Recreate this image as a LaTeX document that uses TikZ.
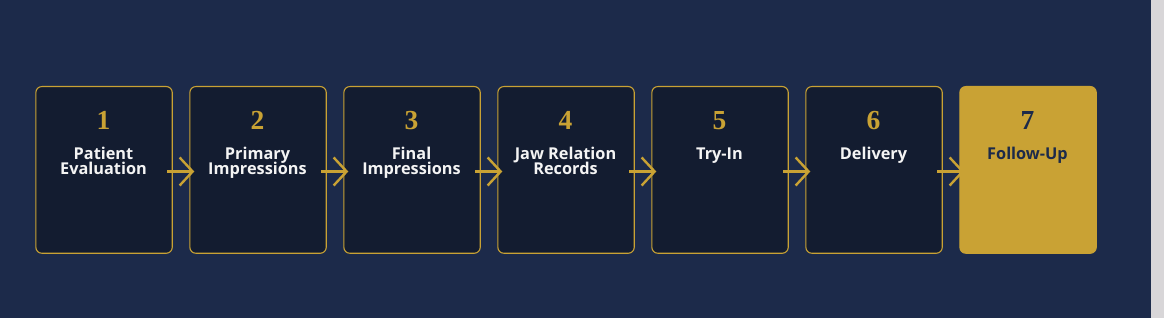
\documentclass[tikz,border=0pt]{standalone}
\usepackage{fontspec}
\setsansfont{Open Sans}
\newfontfamily\numfont{Liberation Serif}
\usetikzlibrary{arrows.meta}
\definecolor{navybg}{HTML}{1C2A4A}
\definecolor{boxfill}{HTML}{131C30}
\definecolor{gold}{HTML}{C9A234}
\definecolor{stripgray}{HTML}{D8D6D8}
\definecolor{labelwhite}{HTML}{F4F4F4}
\tikzset{
  stepbox/.style={draw=gold, line width=1.1pt, fill=boxfill, rounded corners=6pt,
    minimum width=136.4pt, minimum height=166.7pt, inner sep=0pt, anchor=north west},
  lastbox/.style={stepbox, fill=gold},
  numtext/.style={font={\numfont\bfseries\fontsize{27.5}{27.5}\selectfont}, text=gold, inner sep=0pt, anchor=base},
  labeltext/.style={font={\sffamily\bfseries\fontsize{16.3}{15.7}\selectfont\lineskiplimit=-20pt}, text=labelwhite, inner sep=0pt, align=center, anchor=base},
  flowarrow/.style={draw=gold, line width=2.4pt, -{Straight Barb[length=13pt,width=28pt]}}
}
\begin{document}
\begin{tikzpicture}[x=1pt,y=-1pt]
\fill[navybg] (0,0) rectangle (1151,318);
\fill[stripgray] (1151,0) rectangle (1164,318);
\useasboundingbox (0,0) rectangle (1164,318);
\foreach \i/\ly/\lab in {1/175/{Patient\\Evaluation},2/175/{Primary\\Impressions},3/175/{Final\\Impressions},4/175/{Jaw Relation\\Records},5/159.3/{Try-In},6/159.3/{Delivery}}{
  \node[stepbox] (b\i) at ({35.3+154*(\i-1)},86) {};
  \node[numtext] (n\i) at ({103.5+154*(\i-1)},129.3) {\i};
  \node[labeltext] (l\i) at ({103.5+154*(\i-1)},\ly) {\lab};
}
\node[lastbox] (b7) at (959.3,86) {};
\node[numtext, text=navybg] (n7) at (1027.5,129.3) {7};
\node[labeltext, text=navybg] (l7) at (1027.5,159.3) {Follow-Up};
\foreach \i [evaluate=\i as \j using int(\i+1)] in {1,...,6}{
  \draw[flowarrow] ([xshift=-5.7pt,yshift=-1.6pt]b\i.east) -- ([xshift=5pt,yshift=-1.6pt]b\j.west);
}
\end{tikzpicture}
\end{document}
